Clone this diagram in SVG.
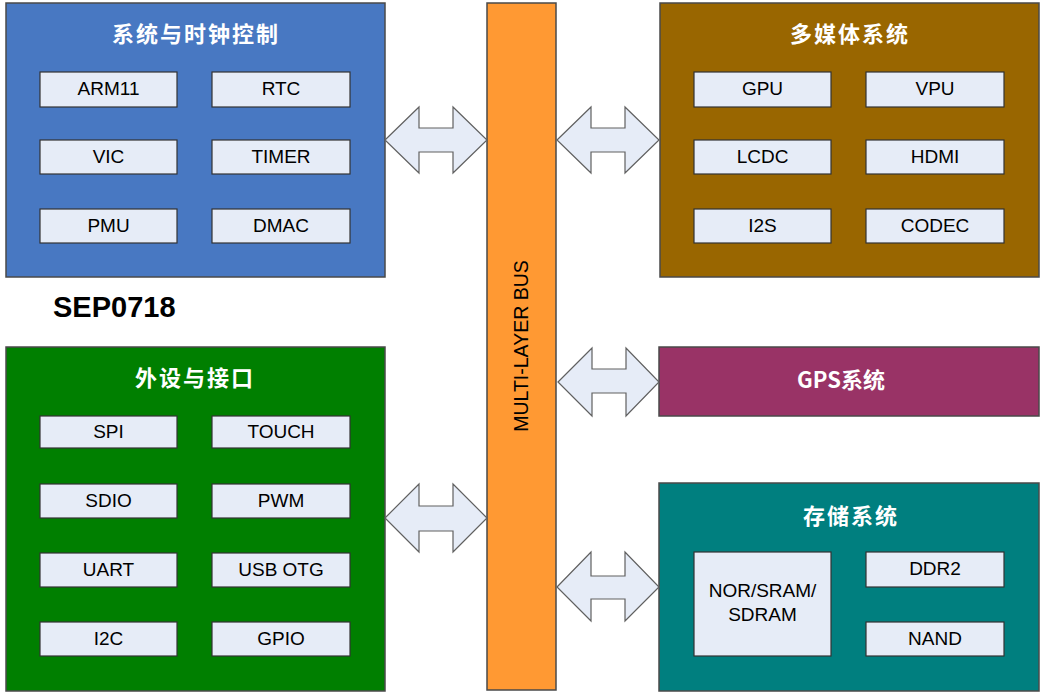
<svg xmlns="http://www.w3.org/2000/svg" width="1045" height="695" viewBox="0 0 1045 695">
<style>
.blk{stroke:#4a4a4a;stroke-width:1.5}
.box{fill:#E6ECF7;stroke:#333;stroke-width:1.2}
.lbl{font-family:"Liberation Sans",Arial,sans-serif;font-size:19px;fill:#000;text-anchor:middle}
.ttl{font-family:"Noto Sans CJK SC","Liberation Sans",sans-serif;font-size:22px;font-weight:bold;fill:#fff;text-anchor:middle;letter-spacing:2px}
.gps{letter-spacing:0}
.arr{fill:#E6ECF7;stroke:#606060;stroke-width:1.2;stroke-linejoin:miter}
</style>
<rect width="1045" height="695" fill="#fff"/>

<g id="bus">
<rect x="487" y="3" width="69" height="687" fill="#FF9933" class="blk"/>
<text transform="translate(528,346) rotate(-90)" font-family="Liberation Sans,Arial,sans-serif" font-size="19.5" text-anchor="middle" fill="#000">MULTI-LAYER BUS</text>
</g>

<g id="sys">
<rect x="6" y="3" width="379" height="274" fill="#4878C2" class="blk"/>
<text x="196" y="42" class="ttl">系统与时钟控制</text>
<rect x="40" y="72" width="137" height="35" class="box"/><text x="108.5" y="95" class="lbl">ARM11</text>
<rect x="212" y="72" width="138" height="35" class="box"/><text x="281" y="95" class="lbl">RTC</text>
<rect x="40" y="140" width="137" height="34" class="box"/><text x="108.5" y="163" class="lbl">VIC</text>
<rect x="212" y="140" width="138" height="34" class="box"/><text x="281" y="163" class="lbl">TIMER</text>
<rect x="40" y="209" width="137" height="34" class="box"/><text x="108.5" y="232" class="lbl">PMU</text>
<rect x="212" y="209" width="138" height="34" class="box"/><text x="281" y="232" class="lbl">DMAC</text>
</g>

<text id="chip" x="53" y="317" font-family="Liberation Sans,Arial,sans-serif" font-size="29" font-weight="bold" fill="#000">SEP0718</text>

<g id="periph">
<rect x="6" y="347" width="379" height="344" fill="#007F00" class="blk"/>
<text x="195" y="386" class="ttl">外设与接口</text>
<rect x="40" y="416" width="137" height="32" class="box"/><text x="108.5" y="438" class="lbl">SPI</text>
<rect x="212" y="416" width="138" height="32" class="box"/><text x="281" y="438" class="lbl">TOUCH</text>
<rect x="40" y="484" width="137" height="34" class="box"/><text x="108.5" y="507" class="lbl">SDIO</text>
<rect x="212" y="484" width="138" height="34" class="box"/><text x="281" y="507" class="lbl">PWM</text>
<rect x="40" y="553" width="137" height="34" class="box"/><text x="108.5" y="576" class="lbl">UART</text>
<rect x="212" y="553" width="138" height="34" class="box"/><text x="281" y="576" class="lbl">USB OTG</text>
<rect x="40" y="622" width="137" height="34" class="box"/><text x="108.5" y="645" class="lbl">I2C</text>
<rect x="212" y="622" width="138" height="34" class="box"/><text x="281" y="645" class="lbl">GPIO</text>
</g>

<g id="media">
<rect x="660" y="3" width="379" height="274" fill="#996600" class="blk"/>
<text x="850" y="42" class="ttl">多媒体系统</text>
<rect x="694" y="72" width="137" height="35" class="box"/><text x="762.5" y="95" class="lbl">GPU</text>
<rect x="866" y="72" width="138" height="35" class="box"/><text x="935" y="95" class="lbl">VPU</text>
<rect x="694" y="140" width="137" height="34" class="box"/><text x="762.5" y="163" class="lbl">LCDC</text>
<rect x="866" y="140" width="138" height="34" class="box"/><text x="935" y="163" class="lbl">HDMI</text>
<rect x="694" y="209" width="137" height="34" class="box"/><text x="762.5" y="232" class="lbl">I2S</text>
<rect x="866" y="209" width="138" height="34" class="box"/><text x="935" y="232" class="lbl">CODEC</text>
</g>

<g id="gps">
<rect x="659" y="347" width="380" height="69" fill="#993366" class="blk"/>
<text x="841" y="388" class="ttl gps">GPS系统</text>
</g>

<g id="storage">
<rect x="659" y="483" width="380" height="208" fill="#007F7F" class="blk"/>
<text x="851" y="524" class="ttl">存储系统</text>
<rect x="694" y="552" width="137" height="104" class="box"/>
<text x="762.5" y="597" class="lbl">NOR/SRAM/</text>
<text x="762.5" y="621" class="lbl">SDRAM</text>
<rect x="866" y="552" width="138" height="35" class="box"/><text x="935" y="575" class="lbl">DDR2</text>
<rect x="866" y="622" width="138" height="34" class="box"/><text x="935" y="645" class="lbl">NAND</text>
</g>

<g id="connectors">
<path class="arr" d="M385,140 L419,107 L419,128 L453,128 L453,107 L487,140 L453,173 L453,152 L419,152 L419,173 Z"/>
<path class="arr" d="M557,140 L591,107 L591,128 L625,128 L625,107 L659,140 L625,173 L625,152 L591,152 L591,173 Z"/>
<path class="arr" d="M558,382 L592,348 L592,369 L626,369 L626,348 L659,382 L626,416 L626,393 L592,393 L592,416 Z"/>
<path class="arr" d="M385,518 L419,484 L419,506 L453,506 L453,484 L487,518 L453,552 L453,531 L419,531 L419,552 Z"/>
<path class="arr" d="M557,587 L591,552 L591,576 L625,576 L625,552 L659,587 L625,621 L625,599 L591,599 L591,621 Z"/>
</g>
</svg>
